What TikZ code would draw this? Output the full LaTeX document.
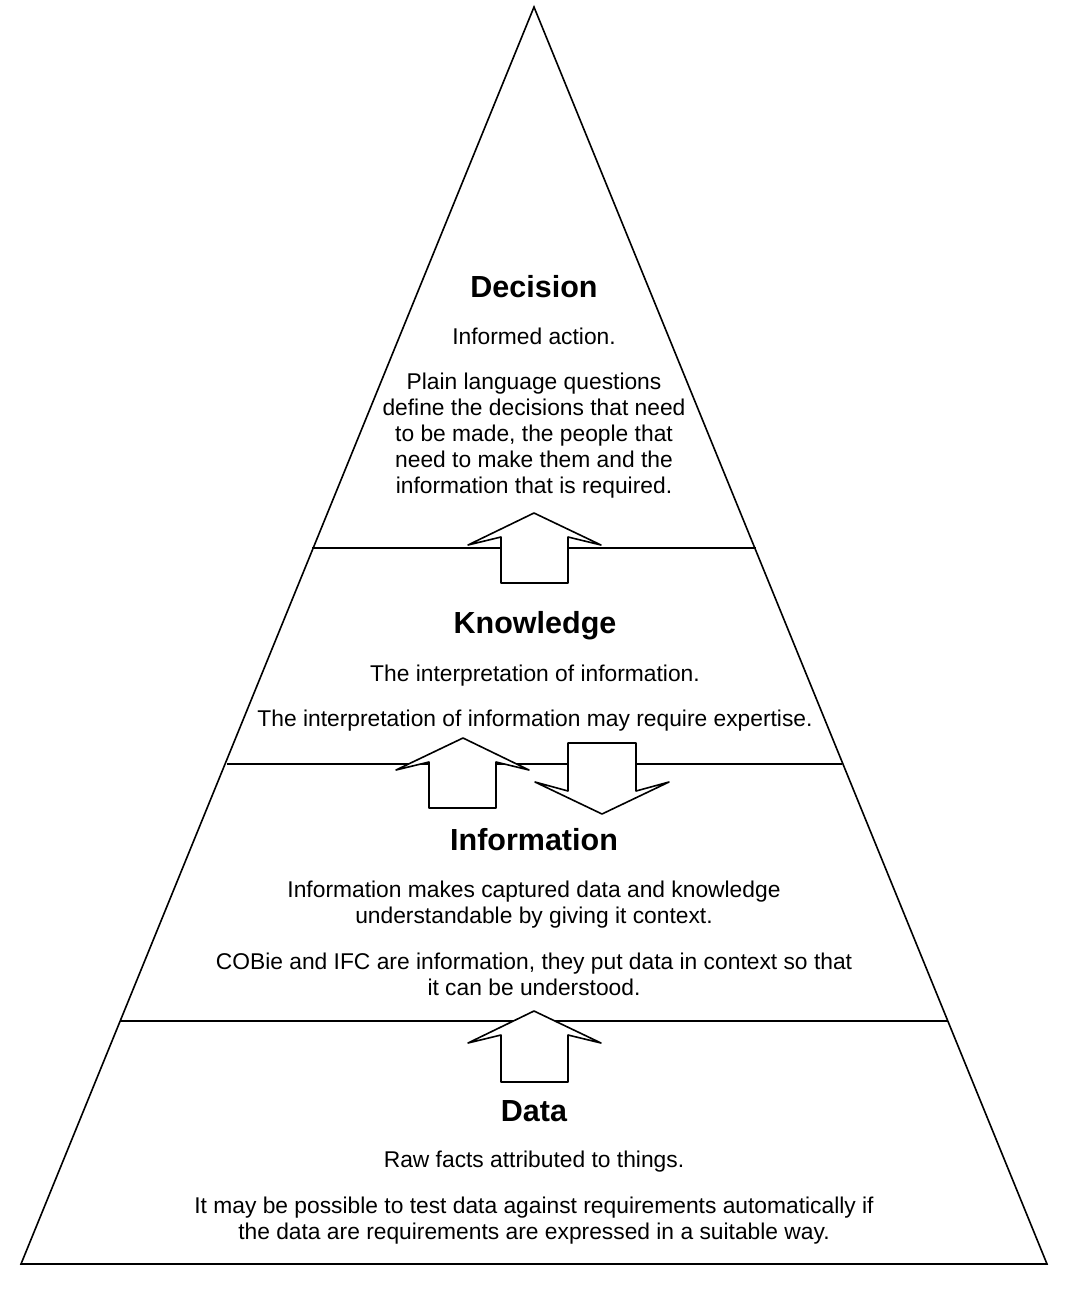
\documentclass[tikz,border=0pt]{standalone}
\usepackage{fontspec}
\setmainfont{Liberation Sans}
\begin{document}
\begin{tikzpicture}[x=1pt,y=-1pt,
  edge/.style={line width=1.6pt, line join=round},
  bigarrow/.style={line width=1.6pt, fill=white, line join=round},
  title/.style={font=\fontsize{30.5}{34}\selectfont\bfseries, inner sep=0pt},
  body/.style={font=\fontsize{22.8}{26}\selectfont, align=center, inner sep=0pt}]
\useasboundingbox[fill=white] (0,0) rectangle (1075,1294);
% pyramid
\coordinate (apex) at (534,7);
\coordinate (bl) at (21,1264);
\coordinate (br) at (1047,1264);
\draw[edge, line join=miter] (apex) -- (br) -- (bl) -- cycle;
% layer lines
\coordinate (l1a) at (312,548); \coordinate (l1b) at (756,548);
\coordinate (l2a) at (227,764); \coordinate (l2b) at (842,764);
\coordinate (l3a) at (120,1021); \coordinate (l3b) at (948,1021);
\draw[edge] (l1a) -- (l1b);
\draw[edge] (l2a) -- (l2b);
\draw[edge] (l3a) -- (l3b);
% arrows
\draw[bigarrow] (534,513) -- (601,545) -- (568,537) -- (568,583) -- (501,583) -- (501,537) -- (468,545) -- cycle;
\draw[bigarrow] (463,738) -- (529,770) -- (496,762) -- (496,808) -- (429,808) -- (429,762) -- (396,770) -- cycle;
\draw[bigarrow] (602,814) -- (669,782) -- (636,791) -- (636,743) -- (568,743) -- (568,791) -- (535,782) -- cycle;
\draw[bigarrow] (534,1011) -- (601,1043) -- (568,1035) -- (568,1082) -- (501,1082) -- (501,1035) -- (468,1043) -- cycle;
% texts
\node[title] (t1) at (534,287) {Decision};
\node[body] (d1) at (534,336.5) {Informed action.};
\node[body] (d2) at (534,436) {Plain language questions\\define the decisions that need\\to be made, the people that\\need to make them and the\\information that is required.};
\node[title] (t2) at (535,626) {Knowledge};
\node[body] (k1) at (535,676) {The interpretation of information.};
\node[body] (k2) at (535,721) {The interpretation of information may require expertise.};
\node[title] (t3) at (534,840) {Information};
\node[body] (i1) at (534,905) {Information makes captured data and knowledge\\understandable by giving it context.};
\node[body] (i2) at (534,974) {COBie and IFC are information, they put data in context so that\\it can be understood.};
\node[title] (t4) at (534,1111) {Data};
\node[body] (a1) at (534,1162) {Raw facts attributed to things.};
\node[body] (a2) at (534,1221) {It may be possible to test data against requirements automatically if\\the data are requirements are expressed in a suitable way.};
\end{tikzpicture}
\end{document}
